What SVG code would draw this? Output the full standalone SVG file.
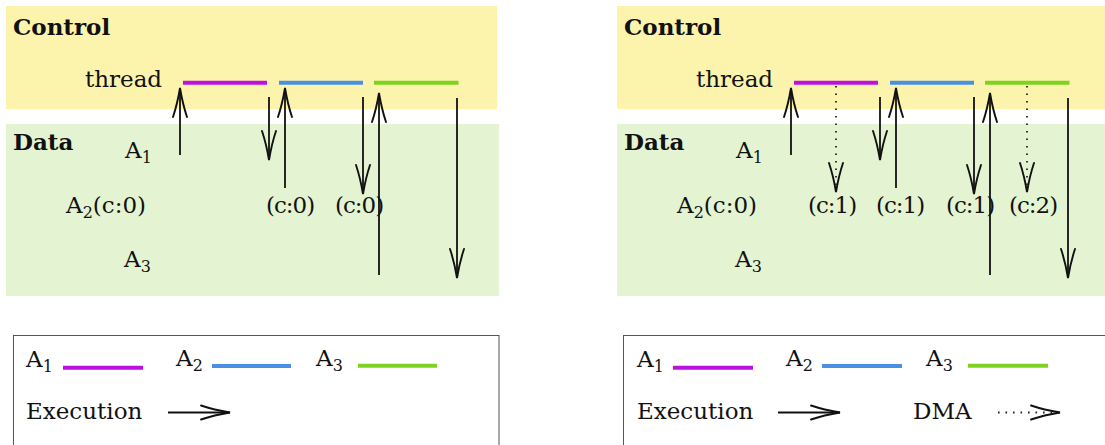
<svg xmlns="http://www.w3.org/2000/svg" width="1105" height="445" viewBox="0 0 1105 445">
  <style>
    text { font-family: "DejaVu Serif", "Liberation Serif", serif; font-size: 23px; fill: #111; }
    .hdr { font-weight: bold; }
    .sub { font-size: 16px; }
    .cnt { letter-spacing: -1px; }
    .ctl { fill: #fcf4ad; }
    .dat { fill: #e4f4d2; }
    .bar { stroke-width: 4; fill: none; }
    .a1 { stroke: #bd10e0; }
    .a2 { stroke: #4a90e2; }
    .a3 { stroke: #7ed321; }
    .exec { stroke: #111; stroke-width: 1.8; fill: none; marker-end: url(#to); }
    .dma { stroke: #222; stroke-width: 1.8; fill: none; stroke-dasharray: 1.6 5.9; marker-end: url(#to); }
    .legend { fill: #fff; stroke: #555; stroke-width: 1; }
  </style>
  <defs>
    <!-- open curved arrow tip, tip at the line end -->
    <marker id="to" markerUnits="userSpaceOnUse" viewBox="-32 -10 34 20" markerWidth="34" markerHeight="20" refX="0" refY="0" orient="auto" overflow="visible">
      <path d="M-29,-7 C-20,-4 -6,-1 0,0 C-6,1 -20,4 -29,7" fill="none" stroke="#111" stroke-width="1.9" stroke-linecap="round" stroke-dasharray="none"/>
    </marker>
  </defs>

  <!-- ===== left panel ===== -->
  <g id="left-control">
    <rect class="ctl" x="6" y="6" width="491" height="103"/>
    <text class="hdr" x="13" y="35">Control</text>
    <text x="85" y="87">thread</text>
  </g>
  <g id="left-data">
    <rect class="dat" x="6" y="124" width="493" height="172"/>
    <text class="hdr" x="13" y="150">Data</text>
    <text x="125" y="158">A<tspan class="sub" dy="5">1</tspan></text>
    <text x="66" y="213">A<tspan class="sub" dy="5">2</tspan><tspan dy="-5">(c:0)</tspan></text>
    <text x="124" y="267">A<tspan class="sub" dy="5">3</tspan></text>
    <text class="cnt" x="266" y="213">(c:0)</text>
    <text class="cnt" x="335" y="213">(c:0)</text>
  </g>
  <g id="left-thread">
    <line class="bar a1" x1="183" y1="82.7" x2="267" y2="82.7"/>
    <line class="bar a2" x1="279" y1="82.7" x2="363" y2="82.7"/>
    <line class="bar a3" x1="374" y1="82.7" x2="458.5" y2="82.7"/>
  </g>
  <g id="left-connectors">
    <line class="exec" x1="180" y1="155" x2="180" y2="88"/>
    <line class="exec" x1="269" y1="97" x2="269" y2="160"/>
    <line class="exec" x1="285" y1="188" x2="285" y2="88"/>
    <line class="exec" x1="363" y1="97" x2="363" y2="194"/>
    <line class="exec" x1="379" y1="275" x2="379" y2="93"/>
    <line class="exec" x1="457" y1="98" x2="457" y2="278"/>
  </g>

  <!-- ===== right panel ===== -->
  <g id="right-control">
    <rect class="ctl" x="617" y="6" width="488" height="103"/>
    <text class="hdr" x="624" y="35">Control</text>
    <text x="696" y="87">thread</text>
  </g>
  <g id="right-data">
    <rect class="dat" x="617" y="124" width="488" height="172"/>
    <text class="hdr" x="624" y="150">Data</text>
    <text x="736" y="158">A<tspan class="sub" dy="5">1</tspan></text>
    <text x="677" y="213">A<tspan class="sub" dy="5">2</tspan><tspan dy="-5">(c:0)</tspan></text>
    <text x="735" y="267">A<tspan class="sub" dy="5">3</tspan></text>
    <text class="cnt" x="808" y="213">(c:1)</text>
    <text class="cnt" x="876" y="213">(c:1)</text>
    <text class="cnt" x="946" y="213">(c:1)</text>
    <text class="cnt" x="1009" y="213">(c:2)</text>
  </g>
  <g id="right-thread">
    <line class="bar a1" x1="794" y1="82.7" x2="878" y2="82.7"/>
    <line class="bar a2" x1="890" y1="82.7" x2="974" y2="82.7"/>
    <line class="bar a3" x1="985" y1="82.7" x2="1069.5" y2="82.7"/>
  </g>
  <g id="right-connectors">
    <line class="exec" x1="791" y1="155" x2="791" y2="88"/>
    <line class="dma" x1="836" y1="86" x2="836" y2="192"/>
    <line class="exec" x1="880" y1="97" x2="880" y2="160"/>
    <line class="exec" x1="896" y1="188" x2="896" y2="88"/>
    <line class="exec" x1="974" y1="97" x2="974" y2="194"/>
    <line class="dma" x1="1027" y1="86" x2="1027" y2="192"/>
    <line class="exec" x1="990" y1="275" x2="990" y2="93"/>
    <line class="exec" x1="1068" y1="98" x2="1068" y2="278"/>
  </g>

  <!-- ===== legends ===== -->
  <g id="left-legend">
    <rect class="legend" x="13.5" y="335.5" width="485.5" height="130"/>
    <text x="26" y="367">A<tspan class="sub" dy="5">1</tspan></text>
    <line class="bar a1" x1="63" y1="367.7" x2="143" y2="367.7"/>
    <text x="176" y="366">A<tspan class="sub" dy="5">2</tspan></text>
    <line class="bar a2" x1="212" y1="366" x2="291" y2="366"/>
    <text x="316" y="366">A<tspan class="sub" dy="5">3</tspan></text>
    <line class="bar a3" x1="358" y1="365.7" x2="437" y2="365.7"/>
    <text x="26" y="419">Execution</text>
    <line class="exec" x1="168" y1="412.5" x2="230" y2="412.5"/>
  </g>
  <g id="right-legend">
    <rect class="legend" x="623.5" y="335.5" width="500" height="130"/>
    <text x="637" y="367">A<tspan class="sub" dy="5">1</tspan></text>
    <line class="bar a1" x1="673" y1="367.7" x2="753" y2="367.7"/>
    <text x="786" y="366">A<tspan class="sub" dy="5">2</tspan></text>
    <line class="bar a2" x1="822" y1="366" x2="902" y2="366"/>
    <text x="926" y="366">A<tspan class="sub" dy="5">3</tspan></text>
    <line class="bar a3" x1="968" y1="365.7" x2="1048" y2="365.7"/>
    <text x="637" y="419">Execution</text>
    <line class="exec" x1="778" y1="412.5" x2="840" y2="412.5"/>
    <text x="913" y="419">DMA</text>
    <line class="dma" x1="998" y1="412.5" x2="1060" y2="412.5"/>
  </g>
</svg>
